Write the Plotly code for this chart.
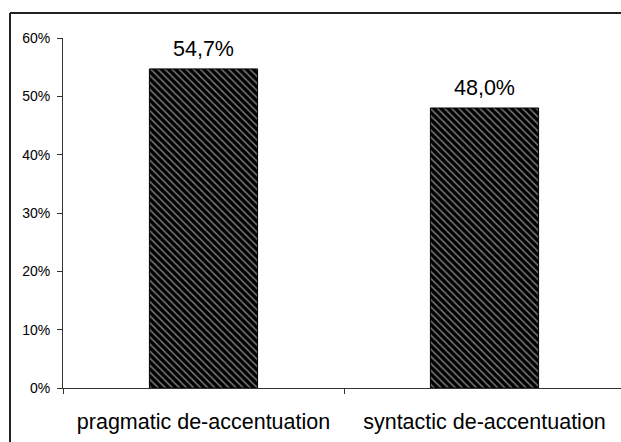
import plotly.graph_objects as go

categories = ["pragmatic de-accentuation", "syntactic de-accentuation"]
values = [54.7, 48.0]
value_labels = ["54,7%", "48,0%"]
y_tickvals = [0, 10, 20, 30, 40, 50, 60]
y_ticktext = ["0%", "10%", "20%", "30%", "40%", "50%", "60%"]

W, H = 621, 442
L, T, B = 63, 38, 54
plot_w = W - L
plot_h = H - T - B
cat_px = 281.0

fig = go.Figure()
fig.add_trace(go.Bar(
    x=categories, y=values, width=0.385,
    marker=dict(
        color="black",
        line=dict(color="black", width=1),
        pattern=dict(shape="\\", fgcolor="#f0f0f0", bgcolor="black", size=5, solidity=0.3),
    ),
    hoverinfo="skip",
))

for c, v, t in zip(categories, values, value_labels):
    fig.add_annotation(x=c, y=v, text=t, showarrow=False, yanchor="bottom", yshift=6,
                       font=dict(family="Liberation Sans, Arial", size=21.5, color="black"))

# outer frame (cropped on right and bottom): top and left edges only
fx = (10 - L) / plot_w
fy = (H - B - 13) / plot_h
fig.add_shape(type="line", xref="paper", yref="paper", x0=fx, x1=1.0, y0=fy, y1=fy,
              line=dict(color="#222222", width=2), layer="below")
fig.add_shape(type="line", xref="paper", yref="paper", x0=fx, x1=fx, y0=fy, y1=-B / plot_h,
              line=dict(color="#222222", width=2), layer="below")

fig.update_layout(
    width=W, height=H,
    margin=dict(l=L, r=0, t=T, b=B),
    plot_bgcolor="white", paper_bgcolor="white",
    showlegend=False,
    font=dict(family="Liberation Sans, Arial", color="black"),
    xaxis=dict(
        type="category", range=[-0.5, -0.5 + plot_w / cat_px],
        showline=True, linecolor="#333333", linewidth=1,
        ticks="outside", tickson="boundaries", ticklen=5, tickcolor="#333333",
        tickfont=dict(size=21.5, color="black"), showgrid=False, zeroline=False,
        ticklabelstandoff=14,
    ),
    yaxis=dict(
        range=[0, 60], tickvals=y_tickvals, ticktext=y_ticktext,
        showline=True, linecolor="#333333", linewidth=1,
        ticks="outside", ticklen=5, tickcolor="#333333",
        tickfont=dict(size=14, color="black"), showgrid=False, zeroline=False,
        ticklabelstandoff=4,
    ),
)

fig.write_html(
    "out.html", config={"displayModeBar": False},
    post_script=("document.documentElement.style.overflow='hidden';"
                 "document.body.style.margin='0';document.body.style.overflow='hidden';"),
)
